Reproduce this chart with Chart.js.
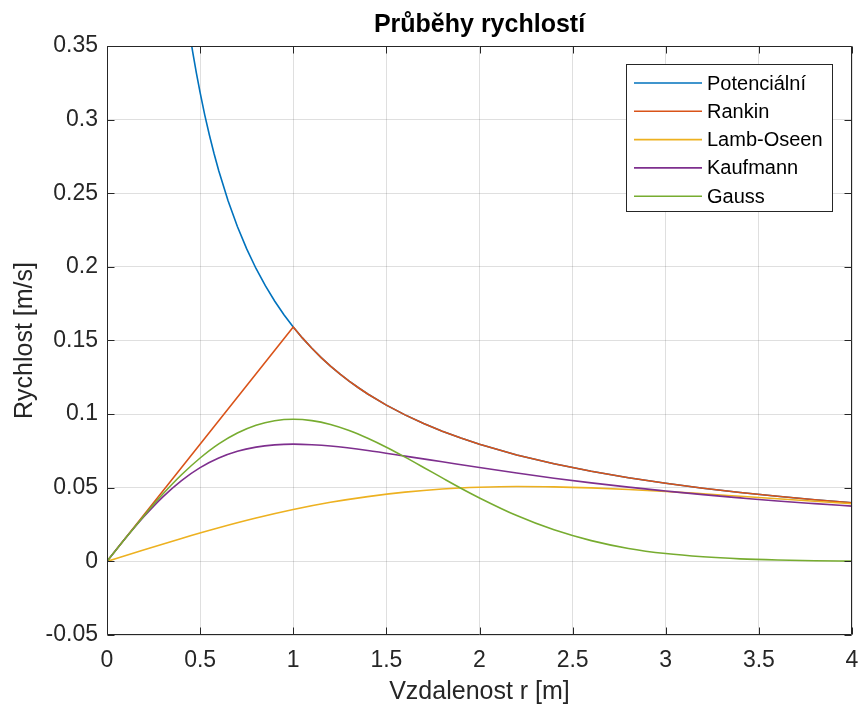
<!DOCTYPE html>
<html>
<head>
<meta charset="utf-8">
<title>Průběhy rychlostí</title>
<script src="https://cdn.jsdelivr.net/npm/chart.js@4.4.1/dist/chart.umd.min.js"></script>
<style>
  html, body { margin: 0; padding: 0; background: #fff; }
  #wrap { width: 860px; height: 707px; }
</style>
</head>
<body>
<div id="wrap"><canvas id="speedChart" width="860" height="707"></canvas></div>
<script>
// values (r in m, v in m/s)
const seriesNames = ["Potenciální", "Rankin", "Lamb-Oseen", "Kaufmann", "Gauss"];
const seriesColors = ["#0072BD", "#D95319", "#EDB120", "#7E2F8E", "#77AC30"];

const rPot = [0.40, 0.42, 0.44, 0.46, 0.48, 0.50, 0.525, 0.55, 0.575, 0.60, 0.65, 0.70, 0.75, 0.80, 0.85, 0.90, 0.95,
              1.0, 1.05, 1.1, 1.15, 1.2, 1.25, 1.3, 1.35, 1.4, 1.5, 1.6, 1.7, 1.8, 1.9, 2.0, 2.2, 2.4, 2.6, 2.8, 3.0, 3.2, 3.4, 3.6, 3.8, 4.0];
const vPot = [0.3979, 0.3789, 0.3617, 0.3460, 0.3316, 0.3183, 0.3031, 0.2894, 0.2768, 0.2653, 0.2449, 0.2274, 0.2122, 0.1989, 0.1872, 0.1768, 0.1675,
              0.1592, 0.1516, 0.1447, 0.1384, 0.1326, 0.1273, 0.1224, 0.1179, 0.1137, 0.1061, 0.0995, 0.0936, 0.0884, 0.0838, 0.0796, 0.0723, 0.0663, 0.0612, 0.0568, 0.0531, 0.0497, 0.0468, 0.0442, 0.0419, 0.0398];

const rRankin = [0, 1.0, 1.05, 1.1, 1.15, 1.2, 1.25, 1.3, 1.35, 1.4, 1.5, 1.6, 1.7, 1.8, 1.9, 2.0, 2.2, 2.4, 2.6, 2.8, 3.0, 3.2, 3.4, 3.6, 3.8, 4.0];
const vRankin = [0, 0.1592, 0.1516, 0.1447, 0.1384, 0.1326, 0.1273, 0.1224, 0.1179, 0.1137, 0.1061, 0.0995, 0.0936, 0.0884, 0.0838, 0.0796, 0.0723, 0.0663, 0.0612, 0.0568, 0.0531, 0.0497, 0.0468, 0.0442, 0.0419, 0.0398];

const rLamb = [0, 0.2, 0.4, 0.6, 0.8, 1.0, 1.2, 1.4, 1.6, 1.8, 2.0, 2.2, 2.4, 2.6, 2.8, 3.0, 3.2, 3.4, 3.6, 3.8, 4.0];
const vLamb = [0, 0.0079, 0.0156, 0.0228, 0.0294, 0.0352, 0.0401, 0.0440, 0.0470, 0.0491, 0.0503, 0.0508, 0.0506, 0.0499, 0.0488, 0.0475, 0.0459, 0.0442, 0.0425, 0.0408, 0.0391];

const rKauf = [0, 0.1, 0.2, 0.3, 0.4, 0.5, 0.6, 0.7, 0.8, 0.9, 1.0, 1.1, 1.2, 1.4, 1.6, 1.8, 2.0, 2.2, 2.4, 2.6, 2.8, 3.0, 3.2, 3.4, 3.6, 3.8, 4.0];
const vKauf = [0, 0.0158, 0.0306, 0.0438, 0.0549, 0.0637, 0.0702, 0.0748, 0.0776, 0.0791, 0.0796, 0.0792, 0.0783, 0.0753, 0.0715, 0.0676, 0.0637, 0.0600, 0.0565, 0.0533, 0.0504, 0.0478, 0.0453, 0.0431, 0.0410, 0.0392, 0.0375];

const rGauss = [0, 0.1, 0.2, 0.3, 0.4, 0.5, 0.6, 0.7, 0.8, 0.9, 1.0, 1.1, 1.2, 1.3, 1.4, 1.5, 1.6, 1.7, 1.8, 1.9, 2.0, 2.2, 2.4, 2.6, 2.8, 3.0, 3.2, 3.4, 3.6, 3.8, 4.0];
const vGauss = [0, 0.0158, 0.0312, 0.0457, 0.0588, 0.0702, 0.0798, 0.0872, 0.0925, 0.0955, 0.0965, 0.0956, 0.0930, 0.0889, 0.0836, 0.0775, 0.0708, 0.0638, 0.0567, 0.0497, 0.0431, 0.0311, 0.0214, 0.0141, 0.0088, 0.0053, 0.0031, 0.0017, 0.0009, 0.0004, 0.0002];

const xTicks = [0, 0.5, 1, 1.5, 2, 2.5, 3, 3.5, 4];
const xTickLabels = ["0", "0.5", "1", "1.5", "2", "2.5", "3", "3.5", "4"];
const yTicks = [-0.05, 0, 0.05, 0.1, 0.15, 0.2, 0.25, 0.3, 0.35];
const yTickLabels = ["-0.05", "0", "0.05", "0.1", "0.15", "0.2", "0.25", "0.3", "0.35"];

const FONT = '"Liberation Sans", Arial, Helvetica, sans-serif';
const AXIS_COLOR = "#262626";

// Rankin has a kink at r = 1, so it (and the potential curve it covers) stays straight-segmented
const smoothSeries = [false, false, true, true, true];

function toPoints(rs, vs) {
    return rs.map((r, i) => ({ x: r, y: vs[i] }));
}

const seriesData = [
    toPoints(rPot, vPot),
    toPoints(rRankin, vRankin),
    toPoints(rLamb, vLamb),
    toPoints(rKauf, vKauf),
    toPoints(rGauss, vGauss)
];

// box around the axes with inward ticks on all four sides (MATLAB look)
const boxPlugin = {
    id: "matlabBox",
    afterDatasetsDraw(chart) {
        const { ctx, chartArea: a, scales } = chart;
        const L = Math.round(a.left) + 0.5, R = Math.round(a.right) - 0.5;
        const T = Math.round(a.top) + 0.5, B = Math.round(a.bottom) - 0.5;
        const len = 7;
        ctx.save();
        ctx.strokeStyle = AXIS_COLOR;
        ctx.lineWidth = 1;
        ctx.beginPath();
        ctx.rect(L, T, R - L, B - T);
        xTicks.forEach(v => {
            const px = Math.round(scales.x.getPixelForValue(v)) + 0.5;
            ctx.moveTo(px, B); ctx.lineTo(px, B - len);
            ctx.moveTo(px, T); ctx.lineTo(px, T + len);
        });
        yTicks.forEach(v => {
            const py = Math.round(scales.y.getPixelForValue(v)) + 0.5;
            ctx.moveTo(L, py); ctx.lineTo(L + len, py);
            ctx.moveTo(R, py); ctx.lineTo(R - len, py);
        });
        ctx.stroke();
        ctx.restore();
    }
};

// legend box in the upper right corner of the axes
const legendPlugin = {
    id: "boxLegend",
    afterDraw(chart) {
        const { ctx } = chart;
        const x0 = 626.5, y0 = 64.5, w = 206, h = 147;
        ctx.save();
        ctx.fillStyle = "#fff";
        ctx.fillRect(x0, y0, w, h);
        ctx.strokeStyle = AXIS_COLOR;
        ctx.lineWidth = 1;
        ctx.strokeRect(x0, y0, w, h);
        ctx.font = "20px " + FONT;
        ctx.textBaseline = "middle";
        ctx.textAlign = "left";
        chart.data.datasets.forEach((ds, i) => {
            const yy = 83 + i * 28.3;
            ctx.strokeStyle = ds.borderColor;
            ctx.lineWidth = 1.6;
            ctx.beginPath();
            ctx.moveTo(634, yy);
            ctx.lineTo(702, yy);
            ctx.stroke();
            ctx.fillStyle = "#000";
            ctx.fillText(ds.label, 707, yy + 1);
        });
        ctx.restore();
    }
};

const ctx = document.getElementById("speedChart").getContext("2d");

const speedChart = new Chart(ctx, {
    type: "line",
    data: {
        datasets: seriesNames.map((name, i) => ({
            label: name,
            data: seriesData[i],
            borderColor: seriesColors[i],
            backgroundColor: seriesColors[i],
            borderWidth: 1.6,
            pointRadius: 0,
            tension: 0,
            cubicInterpolationMode: smoothSeries[i] ? "monotone" : "default",
            fill: false,
            order: seriesNames.length - i // later series drawn on top
        }))
    },
    options: {
        responsive: false,
        animation: false,
        devicePixelRatio: 1,
        layout: { autoPadding: false, padding: { left: 0, right: 8, top: 0, bottom: 0 } },
        plugins: {
            legend: { display: false },
            tooltip: { enabled: false },
            title: {
                display: true,
                fullSize: false,
                text: "Průběhy rychlostí",
                color: "#000",
                font: { family: FONT, size: 25, weight: "bold" },
                padding: { top: 10, bottom: 6 }
            }
        },
        scales: {
            x: {
                type: "linear",
                min: 0,
                max: 4,
                offset: false,
                afterBuildTicks: s => { s.ticks = xTicks.map(v => ({ value: v })); },
                afterFit: s => { s.height = 72; s.paddingLeft = 0; s.paddingRight = 0; },
                grid: { color: "rgba(38,38,38,0.15)", drawTicks: false },
                border: { display: false },
                ticks: {
                    autoSkip: false,
                    maxRotation: 0,
                    padding: 12,
                    color: AXIS_COLOR,
                    font: { family: FONT, size: 23 },
                    callback: (v, i) => xTickLabels[i]
                },
                title: {
                    display: true,
                    text: "Vzdalenost r [m]",
                    color: AXIS_COLOR,
                    font: { family: FONT, size: 25 },
                    padding: { top: 0, bottom: 0 }
                }
            },
            y: {
                type: "linear",
                min: -0.05,
                max: 0.35,
                afterBuildTicks: s => { s.ticks = yTicks.map(v => ({ value: v })); },
                afterFit: s => { s.width = 107; s.paddingTop = 0; s.paddingBottom = 0; },
                grid: { color: "rgba(38,38,38,0.15)", drawTicks: false },
                border: { display: false },
                ticks: {
                    autoSkip: false,
                    padding: 9,
                    color: AXIS_COLOR,
                    font: { family: FONT, size: 23 },
                    callback: (v, i) => yTickLabels[i]
                },
                title: {
                    display: true,
                    text: "Rychlost [m/s]",
                    color: AXIS_COLOR,
                    font: { family: FONT, size: 25 },
                    padding: { top: 10, bottom: 0 }
                }
            }
        }
    },
    plugins: [boxPlugin, legendPlugin]
});
</script>
</body>
</html>
